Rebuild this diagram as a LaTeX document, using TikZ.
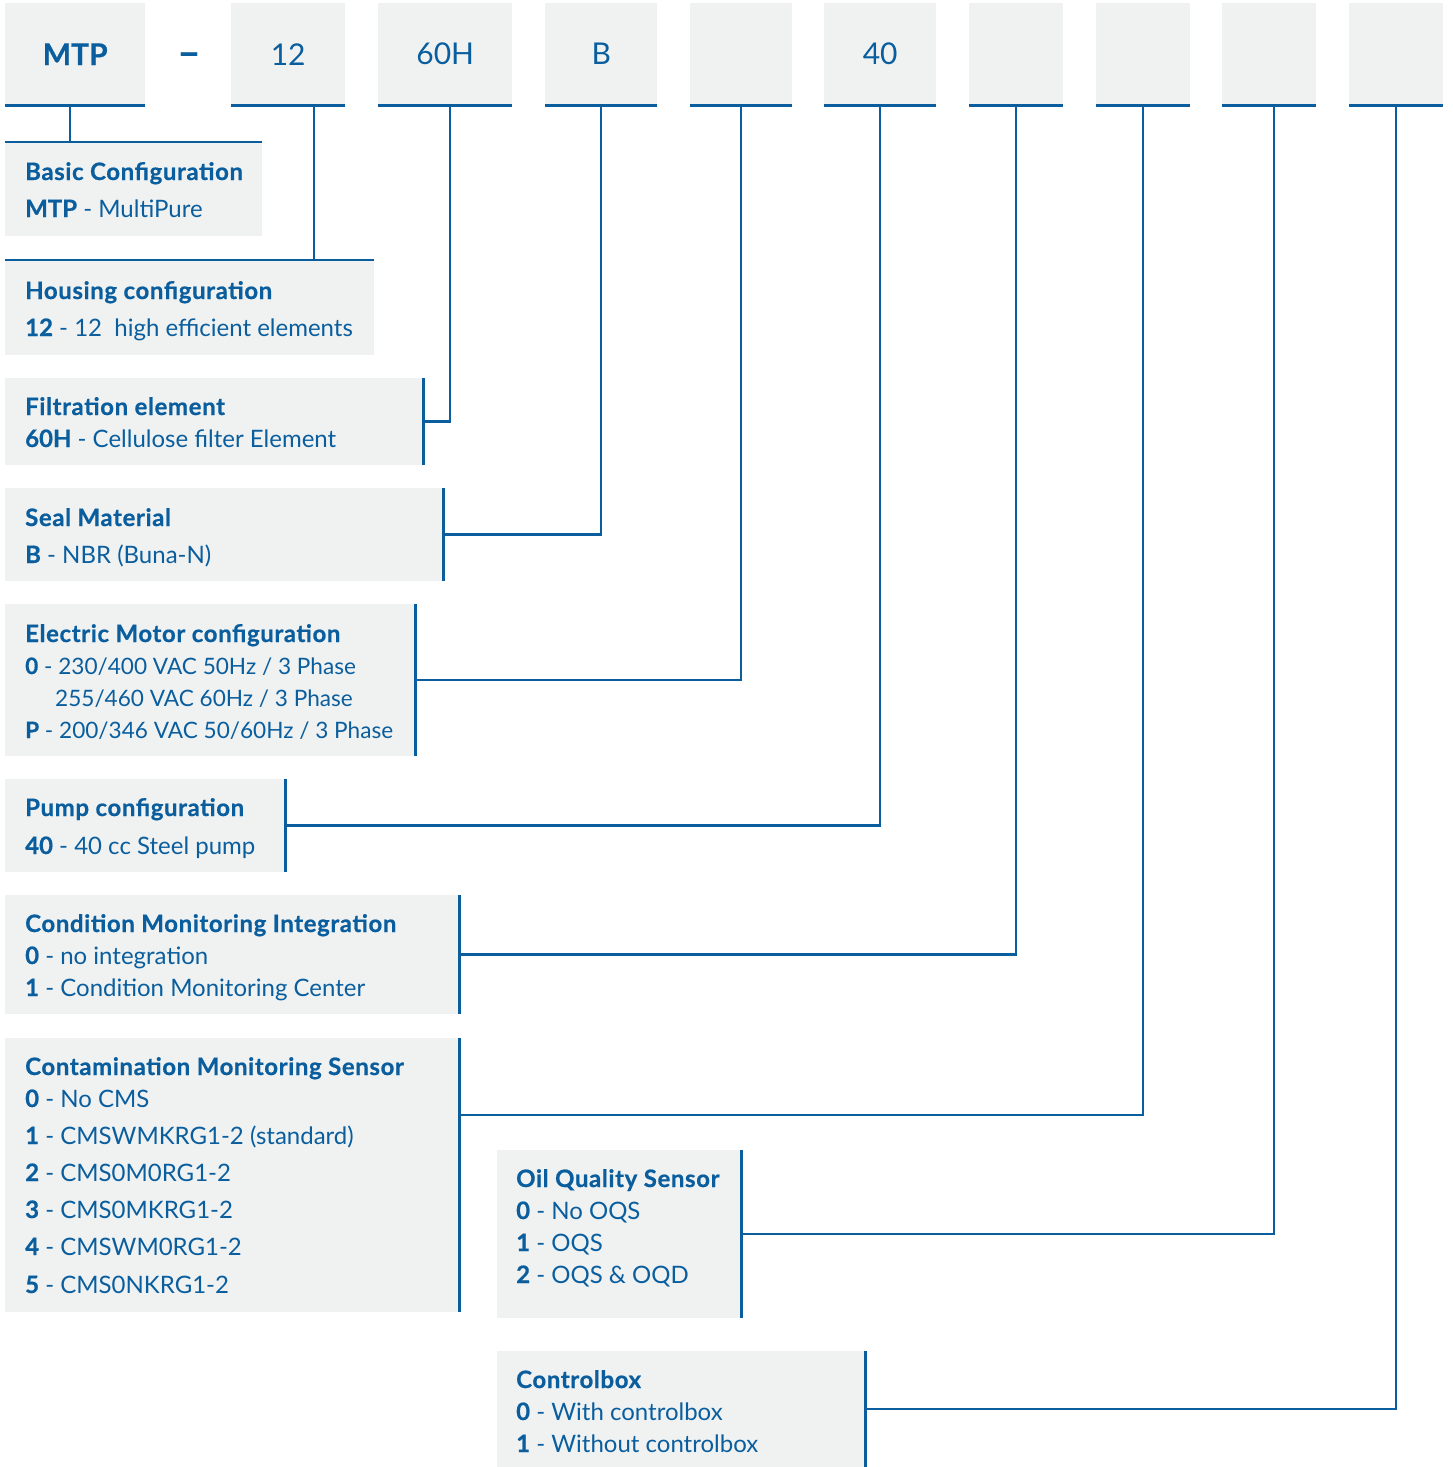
\documentclass[tikz,border=0pt]{standalone}
\usepackage{fontspec}
\setmainfont{Lato}[BoldFeatures={FakeBold=0.6}]
\newfontfamily\headfont{Lato}[LetterSpace=2.5, BoldFeatures={FakeBold=0.6}]
\usepackage{tikz}
\usetikzlibrary{calc}

\definecolor{mpblue}{RGB}{10,94,158}
\definecolor{mpgray}{RGB}{240,242,242}

\tikzset{
  codebox/.style={fill=mpgray, minimum height=102, anchor=north west, inner sep=0pt,
    text=mpblue, font=\fontsize{30}{36}\selectfont},
  infobox/.style={fill=mpgray, anchor=north west, inner sep=0pt},
  wire/.style={draw=mpblue, line width=2.5pt},
  line/.style={anchor=base west, inner sep=0pt, text=mpblue, font=\fontsize{24}{28}\selectfont},
  numline/.style={line, font=\fontsize{22.6}{26}\selectfont},
  title/.style={line, font=\fontsize{24}{28}\selectfont\headfont\bfseries},
}
\newcommand{\opt}[2]{\textbf{#1} - #2}

\begin{document}
\begin{tikzpicture}[x=1pt,y=-1pt]
  \useasboundingbox (0,0) rectangle (1453,1467);

  %% Code boxes along the top
  \foreach \n/\x/\w/\t in {c1/5/140/\textbf{MTP}, c2/231/114/12, c3/378/134/60H,
    c4/545/112/B, c5/690/102/, c6/824/112/40, c7/969/94/, c8/1096/94/,
    c9/1222/94/, c10/1349/94/}
  {
    \node[codebox, minimum width=\w] (\n) at (\x,3) {\t};
    \draw[wire] (\n.south west) -- (\n.south east);
  }
  \node[text=mpblue, inner sep=0pt, anchor=base, font=\fontsize{40}{44}\selectfont\bfseries]
    (dash) at (189,66) {\textendash};

  %% Description boxes
  \node[infobox, minimum width=257, minimum height=94]  (basic) at (5,142)  {};
  \node[infobox, minimum width=369, minimum height=95]  (house) at (5,260)  {};
  \node[infobox, minimum width=418, minimum height=87]  (filt)  at (5,378)  {};
  \node[infobox, minimum width=438, minimum height=93]  (seal)  at (5,488)  {};
  \node[infobox, minimum width=410, minimum height=152] (elec)  at (5,604)  {};
  \node[infobox, minimum width=280, minimum height=93]  (pump)  at (5,779)  {};
  \node[infobox, minimum width=454, minimum height=119] (cond)  at (5,895)  {};
  \node[infobox, minimum width=454, minimum height=274] (cms)   at (5,1038) {};
  \node[infobox, minimum width=244, minimum height=168] (oil)   at (497,1150) {};
  \node[infobox, minimum width=368, minimum height=116] (ctrl)  at (497,1351) {};

  %% Blue edges of the boxes
  \draw[wire] (basic.north west) -- (basic.north east);
  \draw[wire] (house.north west) -- (house.north east);
  \foreach \b in {filt,seal,elec,pump,cond,cms,oil,ctrl}
    \draw[wire] (\b.north east) -- (\b.south east);

  %% Connectors
  \draw[wire] ([xshift=-5pt]c1.south) -- ([xshift=-5pt]c1.south |- basic.north);
  \draw[wire] ([xshift=26pt]c2.south) -- ([xshift=26pt]c2.south |- house.north);
  \draw[wire] ([xshift=5pt]c3.south) |- (filt.east);
  \draw[wire] (c4.south) |- (seal.east);
  \draw[wire] (c5.south) |- (elec.east);
  \draw[wire] (c6.south) |- (pump.east);
  \draw[wire] (c7.south) |- (cond.east);
  \draw[wire] (c8.south) |- ([yshift=60pt]cms.east);
  \draw[wire] ([xshift=5pt]c9.south) |- (oil.east);
  \draw[wire] (c10.south) |- (ctrl.east);

  %% Texts
  \node[title] (basicT) at (25,180) {Basic Configuration};
  \node[line]  (basicA) at (25,217) {\opt{MTP}{MultiPure}};

  \node[title] (houseT) at (25,299) {Housing configuration};
  \node[line]  (houseA) at (25,336) {\opt{12}{12\ \ high efficient elements}};

  \node[title] (filtT) at (25,415) {Filtration element};
  \node[line]  (filtA) at (25,447) {\opt{60H}{Cellulose filter Element}};

  \node[title] (sealT) at (25,526) {Seal Material};
  \node[line]  (sealA) at (25,563) {\opt{B}{NBR (Buna-N)}};

  \node[title]   (elecT) at (25,642) {Electric Motor configuration};
  \node[numline] (elecA) at (25,674) {\opt{0}{230/400 VAC 50Hz / 3 Phase}};
  \node[numline] (elecB) at (55,706) {255/460 VAC 60Hz / 3 Phase};
  \node[numline] (elecC) at (25,738) {\opt{P}{200/346 VAC 50/60Hz / 3 Phase}};

  \node[title] (pumpT) at (25,816) {Pump configuration};
  \node[line]  (pumpA) at (25,854) {\opt{40}{40 cc Steel pump}};

  \node[title] (condT) at (25,932) {Condition Monitoring Integration};
  \node[line]  (condA) at (25,964) {\opt{0}{no integration}};
  \node[line]  (condB) at (25,996) {\opt{1}{Condition Monitoring Center}};

  \node[title] (cmsT) at (25,1075) {Contamination Monitoring Sensor};
  \node[line]  (cmsA) at (25,1107) {\opt{0}{No CMS}};
  \node[line]  (cmsB) at (25,1144) {\opt{1}{CMSWMKRG1-2 (standard)}};
  \node[line]  (cmsC) at (25,1181) {\opt{2}{CMS0M0RG1-2}};
  \node[line]  (cmsD) at (25,1218) {\opt{3}{CMS0MKRG1-2}};
  \node[line]  (cmsE) at (25,1255) {\opt{4}{CMSWM0RG1-2}};
  \node[line]  (cmsF) at (25,1293) {\opt{5}{CMS0NKRG1-2}};

  \node[title] (oilT) at (516,1187) {Oil Quality Sensor};
  \node[line]  (oilA) at (516,1219) {\opt{0}{No OQS}};
  \node[line]  (oilB) at (516,1251) {\opt{1}{OQS}};
  \node[line]  (oilC) at (516,1283) {\opt{2}{OQS \& OQD}};

  \node[title] (ctrlT) at (516,1388) {Controlbox};
  \node[line]  (ctrlA) at (516,1420) {\opt{0}{With controlbox}};
  \node[line]  (ctrlB) at (516,1452) {\opt{1}{Without controlbox}};
\end{tikzpicture}
\end{document}
